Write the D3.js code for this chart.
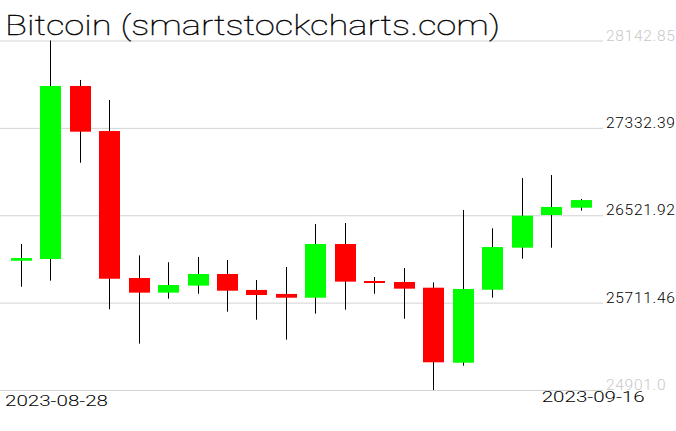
<!DOCTYPE html>
<html>
<head>
<meta charset="utf-8">
<script src="https://cdn.jsdelivr.net/npm/d3@7"></script>
<style>
  html, body { margin: 0; padding: 0; background: #fff; }
  svg { display: block; }
  .thin { font-family: "Roboto", "DejaVu Sans", sans-serif; font-weight: 100; }
  .light { font-family: "Roboto", "DejaVu Sans", sans-serif; font-weight: 300; }
</style>
</head>
<body>
<svg id="chart" width="676" height="431"></svg>
<script>
// ---- data ----
const dates = ["2023-08-28","2023-08-29","2023-08-30","2023-08-31","2023-09-01",
  "2023-09-02","2023-09-03","2023-09-04","2023-09-05","2023-09-06",
  "2023-09-07","2023-09-08","2023-09-09","2023-09-10","2023-09-11",
  "2023-09-12","2023-09-13","2023-09-14","2023-09-15","2023-09-16"];
const open  = [26100, 26116, 27721, 27303, 25940, 25804, 25869, 25977, 25829, 25792,
               25757, 26255, 25912, 25903, 25850, 25154, 25831, 26221, 26524, 26592];
const close = [26125, 27721, 27297, 25933, 25804, 25875, 25977, 25822, 25782, 25757,
               26255, 25906, 25896, 25841, 25158, 25838, 26227, 26518, 26599, 26663];
const high  = [26255, 28142.85, 27777, 27591, 26150, 26086, 26135, 26107, 25921, 26042,
               26441, 26450, 25949, 26033, 25900, 26571, 26401, 26867, 26895, 26673];
const low   = [25859, 25915, 27009, 25650, 25331, 25748, 25794, 25627, 25553, 25368,
               25609, 25646, 25794, 25562, 24901.0, 25126, 25757, 26119, 26221, 26564];
const tickValues = [28142.85, 27332.39, 26521.92, 25711.46, 24901.0];
const tickLabels = ["28142.85", "27332.39", "26521.92", "25711.46", "24901.0"];
const dateLabels = ["2023-08-28", "2023-09-16"];
const title = "Bitcoin (smartstockcharts.com)";

const rows = dates.map((d, i) => ({date: d, open: open[i], close: close[i], high: high[i], low: low[i]}));

// ---- layout ----
const svg = d3.select("#chart");
const x = d3.scalePoint().domain(dates).range([20.7, 580.7]);
const y = d3.scaleLinear().domain([24901.0, 28142.85]).range([390, 40.5]);
const bodyW = 21;

// gridlines
const grid = svg.append("g").attr("transform", "translate(603,0)")
  .call(d3.axisLeft(y).tickValues(tickValues).tickSize(603).tickFormat(""));
grid.select(".domain").remove();
grid.selectAll(".tick line").attr("stroke", "#d3d3d3").attr("stroke-width", 1);

// right labels
const ax = svg.append("g").attr("transform", "translate(605,0)")
  .call(d3.axisRight(y).tickValues(tickValues).tickSize(0)
        .tickFormat((d, i) => tickLabels[i]));
ax.select(".domain").remove();
ax.selectAll(".tick text")
  .attr("font-family", null)
  .attr("font-size", null)
  .attr("class", "light")
  .style("font-size", "15.5px")
  .attr("x", 1)
  .attr("dy", "-0.5")
  .attr("fill", (d, i) => (i === 0 || i === tickLabels.length - 1) ? "#c8c8c8" : "#000")
  .style("letter-spacing", "0.7px");

// wicks
svg.append("g").selectAll("line").data(rows).join("line")
  .attr("x1", d => Math.round(x(d.date)) + 0.5)
  .attr("x2", d => Math.round(x(d.date)) + 0.5)
  .attr("y1", d => y(d.high))
  .attr("y2", d => y(d.low))
  .attr("stroke", "#000").attr("stroke-width", 1);

// bodies
svg.append("g").selectAll("rect").data(rows).join("rect")
  .attr("x", d => Math.round(x(d.date)) - 10)
  .attr("width", bodyW)
  .attr("y", d => y(Math.max(d.open, d.close)))
  .attr("height", d => Math.max(2, Math.abs(y(d.open) - y(d.close))))
  .attr("fill", d => d.close >= d.open ? "#00ff00" : "#ff0000");

// title
svg.append("text").attr("class", "thin")
  .attr("x", 5).attr("y", 35)
  .attr("font-size", 27)
  .attr("fill", "#000")
  .attr("stroke", "#000").attr("stroke-width", 0.35)
  .attr("textLength", 495).attr("lengthAdjust", "spacingAndGlyphs")
  .text(title);

// date labels
svg.append("text").attr("class", "light")
  .attr("x", x(dates[0]) - 15.7).attr("y", 406)
  .attr("font-size", 15.5)
  .attr("textLength", 103).attr("lengthAdjust", "spacingAndGlyphs")
  .text(dateLabels[0]);
svg.append("text").attr("class", "light")
  .attr("x", x(dates[dates.length - 1]) - 39).attr("y", 401.5)
  .attr("font-size", 15.5)
  .attr("textLength", 103).attr("lengthAdjust", "spacingAndGlyphs")
  .text(dateLabels[1]);
</script>
</body>
</html>
